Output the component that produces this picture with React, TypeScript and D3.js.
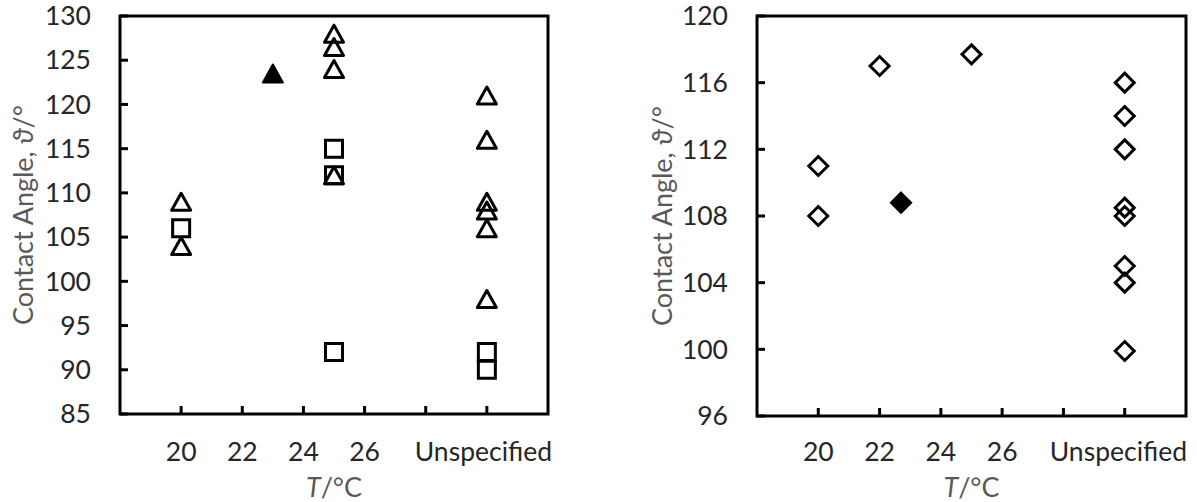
import React from 'react'
import * as d3 from 'd3'

// x positions: 20..26 in °C, "Unspecified" placed at 30
const xTicks = [20, 22, 24, 26, 28, 30]
const xTickLabels = ['20', '22', '24', '26', '', 'Unspecified']

const leftYTicks = [85, 90, 95, 100, 105, 110, 115, 120, 125, 130]
const rightYTicks = [96, 100, 104, 108, 112, 116, 120]

// left panel
const leftSquares = [[20, 106], [25, 115], [25, 112], [25, 92], [30, 92], [30, 90]]
const leftTriangles = [
  [20, 109], [20, 104],
  [25, 128], [25, 126.5], [25, 124], [25, 112],
  [30, 121], [30, 116], [30, 109], [30, 108], [30, 106], [30, 98],
]
const leftFilledTriangles = [[23, 123.5]]

// right panel
const rightDiamonds = [
  [20, 111], [20, 108], [22, 117], [25, 117.7],
  [30, 116], [30, 114], [30, 112], [30, 108.5], [30, 108], [30, 105], [30, 104], [30, 99.9],
]
const rightFilledDiamonds = [[22.7, 108.8]]

const FONT = 'Lato, "Open Sans", sans-serif'
const TICK_FS = 26.5
const TITLE_FS = 27

const squarePath = (r: number) => `M${-r},${-r}H${r}V${r}H${-r}Z`
const trianglePath = (w: number, h: number) => `M0,${-h}L${w},${h}L${-w},${h}Z`
const diamondPath = (r: number) => `M0,${-r}L${r},0L0,${r}L${-r},0Z`

type Panel = {
  x0: number; x1: number; y0: number; y1: number
  yDomain: [number, number]; yTicks: number[]; titleX: number; lastLabelEnd: number
}

function Axes({ p, x, y }: { p: Panel; x: d3.ScaleLinear<number, number>; y: d3.ScaleLinear<number, number> }) {
  const cx = (p.x0 + p.x1) / 2
  return (
    <g>
      {p.yTicks.map(t => (
        <g key={'y' + t}>
          <line x1={p.x0} x2={p.x0 + 8} y1={y(t)} y2={y(t)} stroke="#000" strokeWidth={3} />
          <text x={p.x0 - 29} y={y(t)} dy="0.35em" textAnchor="end" fontSize={TICK_FS} fill="#262626">{t}</text>
        </g>
      ))}
      {xTicks.map((t, i) => {
        const last = i === xTicks.length - 1
        return (
          <g key={'x' + t}>
            <line x1={x(t)} x2={x(t)} y1={p.y1} y2={p.y1 - 8} stroke="#000" strokeWidth={3} />
            <text x={last ? p.lastLabelEnd : x(t)} y={461} textAnchor={last ? 'end' : 'middle'}
              fontSize={TICK_FS} fill="#262626">{xTickLabels[i]}</text>
          </g>
        )
      })}
      <rect x={p.x0} y={p.y0} width={p.x1 - p.x0} height={p.y1 - p.y0} fill="none" stroke="#000" strokeWidth={3} />
      <text x={cx} y={497} textAnchor="middle" fontSize={TITLE_FS} fill="#595959">
        <tspan fontStyle="italic">T</tspan>/°C
      </text>
      <text transform={`translate(${p.titleX},${(p.y0 + p.y1) / 2}) rotate(-90)`} textAnchor="middle"
        dy="0.35em" fontSize={TITLE_FS} fill="#595959">
        Contact Angle, <tspan fontStyle="italic">ϑ</tspan>/°
      </text>
    </g>
  )
}

export default function App() {
  const left: Panel = { x0: 120, x1: 548, y0: 16, y1: 414, yDomain: [85, 130], yTicks: leftYTicks, titleX: 24, lastLabelEnd: 552 }
  const right: Panel = { x0: 757, x1: 1186, y0: 16, y1: 416, yDomain: [96, 120], yTicks: rightYTicks, titleX: 663, lastLabelEnd: 1187 }

  const lx = d3.scaleLinear().domain([18, 32]).range([left.x0, left.x1])
  const ly = d3.scaleLinear().domain(left.yDomain).range([left.y1, left.y0])
  const rx = d3.scaleLinear().domain([18, 32]).range([right.x0, right.x1])
  const ry = d3.scaleLinear().domain(right.yDomain).range([right.y1, right.y0])

  return (
    <div style={{ position: 'absolute', left: 0, top: 0 }}>
      <svg width={1197} height={502} fontFamily={FONT} style={{ display: 'block' }}>
        <rect width={1197} height={502} fill="#fff" />
        <Axes p={left} x={lx} y={ly} />
        <g>
          {leftSquares.map((d, i) => (
            <path key={'s' + i} d={squarePath(8.5)} transform={`translate(${lx(d[0])},${ly(d[1])})`}
              fill="none" stroke="#000" strokeWidth={3} />
          ))}
          {leftTriangles.map((d, i) => (
            <path key={'t' + i} d={trianglePath(9.5, 8.5)} transform={`translate(${lx(d[0])},${ly(d[1])})`}
              fill="none" stroke="#000" strokeWidth={3} strokeLinejoin="round" />
          ))}
          {leftFilledTriangles.map((d, i) => (
            <path key={'ft' + i} d={trianglePath(10, 9)} transform={`translate(${lx(d[0])},${ly(d[1])})`}
              fill="#000" stroke="#000" strokeWidth={2} strokeLinejoin="round" />
          ))}
        </g>
        <Axes p={right} x={rx} y={ry} />
        <g>
          {rightDiamonds.map((d, i) => (
            <path key={'d' + i} d={diamondPath(9.5)} transform={`translate(${rx(d[0])},${ry(d[1])})`}
              fill="none" stroke="#000" strokeWidth={3} />
          ))}
          {rightFilledDiamonds.map((d, i) => (
            <path key={'fd' + i} d={diamondPath(10.5)} transform={`translate(${rx(d[0])},${ry(d[1])})`}
              fill="#000" stroke="#000" strokeWidth={1.5} />
          ))}
        </g>
      </svg>
    </div>
  )
}
